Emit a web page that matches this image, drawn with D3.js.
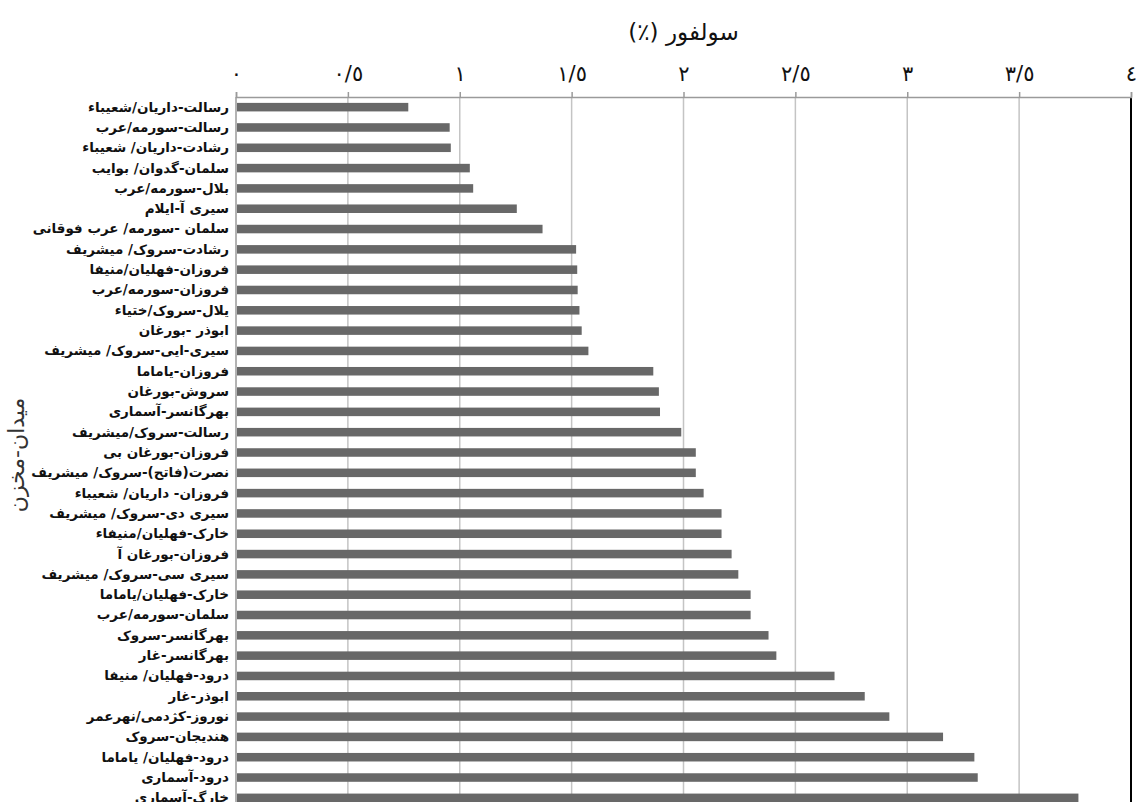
<!DOCTYPE html>
<html>
<head>
<meta charset="utf-8">
<script src="https://cdn.jsdelivr.net/npm/d3@7"></script>
<style>
  html, body { margin: 0; padding: 0; background: #fff; overflow: hidden; }
  svg { display: block; }
</style>
</head>
<body>
<script>
// field-reservoir names, top to bottom
var categories = [
  "رسالت-داریان/شعیباء",
  "رسالت-سورمه/عرب",
  "رشادت-داریان/ شعیباء",
  "سلمان-گدوان/ بوایب",
  "بلال-سورمه/عرب",
  "سیری آ-ایلام",
  "سلمان -سورمه/ عرب فوقانی",
  "رشادت-سروک/ میشریف",
  "فروزان-فهلیان/منیفا",
  "فروزان-سورمه/عرب",
  "یلال-سروک/ختیاء",
  "ابوذر -بورغان",
  "سیری-ایی-سروک/ میشریف",
  "فروزان-یاماما",
  "سروش-بورغان",
  "بهرگانسر-آسماری",
  "رسالت-سروک/میشریف",
  "فروزان-بورغان بی",
  "نصرت(فاتح)-سروک/ میشریف",
  "فروزان- داریان/ شعیباء",
  "سیری دی-سروک/ میشریف",
  "خارک-فهلیان/منیفاء",
  "فروزان-بورغان آ",
  "سیری سی-سروک/ میشریف",
  "خارک-فهلیان/یاماما",
  "سلمان-سورمه/عرب",
  "بهرگانسر-سروک",
  "بهرگانسر-غار",
  "درود-فهلیان/ منیفا",
  "ابوذر-غار",
  "نوروز-کژدمی/نهرعمر",
  "هندیجان-سروک",
  "درود-فهلیان/ یاماما",
  "درود-آسماری",
  "خارگ-آسماری"
];

// sulfur %
var sulfur = [
  0.77, 0.955, 0.96, 1.045, 1.06, 1.255, 1.37, 1.52, 1.525, 1.527,
  1.535, 1.545, 1.575, 1.865, 1.89, 1.895, 1.99, 2.055, 2.055, 2.09,
  2.17, 2.17, 2.215, 2.245, 2.30, 2.30, 2.38, 2.415, 2.675, 2.81,
  2.92, 3.16, 3.30, 3.315, 3.765
];

var tickValues = [0, 0.5, 1, 1.5, 2, 2.5, 3, 3.5, 4];
var tickLabels = ["٠", "٠/٥", "١", "١/٥", "٢", "٢/٥", "٣", "٣/٥", "٤"];

var xTitle = "سولفور (٪)";
var yTitle = "میدان-مخزن";

var W = 1139, H = 802;
var plotLeft = 236, plotRight = 1131, plotTop = 97, plotBottom = 808;

var svg = d3.select("body").append("svg")
  .attr("width", W)
  .attr("height", H);

var x = d3.scaleLinear().domain([0, 4]).range([plotLeft, plotRight]);
var y = d3.scaleBand().domain(categories).range([plotTop, plotBottom])
  .paddingInner(0.58).paddingOuter(0.29);

// grid lines
svg.append("g").selectAll("line")
  .data(tickValues)
  .enter()
  .append("line")
  .attr("x1", function(d) { return x(d) })
  .attr("x2", function(d) { return x(d) })
  .attr("y1", plotTop)
  .attr("y2", H)
  .style("stroke", function(d) {
    if (d == 0) return "#9a9a9a";
    if (d == 4) return "#000";
    return "#c4c4c4";
  })
  .style("stroke-width", function(d) { return d == 4 ? 2 : 1.5 });

// bars
svg.append("g").selectAll("rect")
  .data(sulfur)
  .enter()
  .append("rect")
  .attr("x", x(0) + 1)
  .attr("y", function(d, i) { return y(categories[i]) })
  .attr("width", function(d) { return x(d) - x(0) - 1 })
  .attr("height", y.bandwidth())
  .style("fill", "#686868");

// top axis
var xAxis = svg.append("g")
  .attr("transform", "translate(0," + plotTop + ")")
  .call(d3.axisTop(x)
    .tickValues(tickValues)
    .tickFormat(function(d, i) { return tickLabels[i] })
    .tickSize(5)
    .tickPadding(11));
xAxis.select(".domain").style("stroke", "#9a9a9a").style("stroke-width", 1.5);
xAxis.selectAll(".tick line").style("stroke", "#9a9a9a").style("stroke-width", 1.5);
xAxis.selectAll(".tick text")
  .style("font-family", "'DejaVu Sans', sans-serif")
  .style("font-size", "21px")
  .style("fill", "#111");

// category labels
svg.append("g").selectAll("text")
  .data(categories)
  .enter()
  .append("text")
  .attr("x", 229)
  .attr("y", function(d) { return y(d) + y.bandwidth() / 2 })
  .attr("dy", "0.33em")
  .attr("direction", "rtl")
  .attr("text-anchor", "start")
  .style("font-family", "'DejaVu Sans', sans-serif")
  .style("font-weight", "bold")
  .style("font-size", "13.5px")
  .style("fill", "#111")
  .text(function(d) { return d });

// axis titles
svg.append("text")
  .attr("x", (plotLeft + plotRight) / 2)
  .attr("y", 40)
  .attr("direction", "rtl")
  .attr("text-anchor", "middle")
  .style("font-family", "'DejaVu Sans', sans-serif")
  .style("font-size", "23px")
  .style("fill", "#111")
  .text(xTitle);

svg.append("text")
  .attr("transform", "translate(24," + 455 + ") rotate(-90)")
  .attr("direction", "rtl")
  .attr("text-anchor", "middle")
  .style("font-family", "'DejaVu Sans', sans-serif")
  .style("font-size", "22px")
  .style("letter-spacing", "2px")
  .style("fill", "#333")
  .text(yTitle);
</script>
</body>
</html>
